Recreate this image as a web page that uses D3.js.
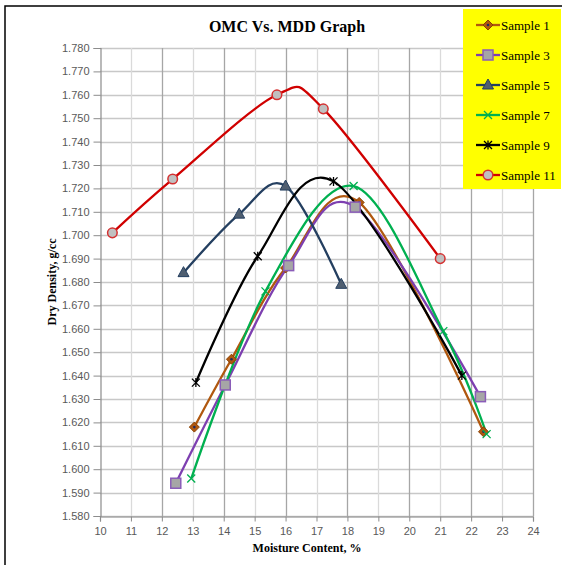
<!DOCTYPE html>
<html><head><meta charset="utf-8">
<script src="https://cdn.jsdelivr.net/npm/d3@7"></script>
<style>body{margin:0;background:#fff}</style>
</head><body>
<script>
// ---- data ----
const s1x = [13.05, 14.25, 16.0, 18.38, 22.4];
const s1y = [1.618, 1.647, 1.686, 1.714, 1.616];
const s3x = [12.45, 14.05, 16.1, 18.25, 22.3];
const s3y = [1.594, 1.636, 1.687, 1.712, 1.631];
const s5x = [12.7, 14.5, 16.0, 17.8];
const s5y = [1.684, 1.709, 1.721, 1.679];
const s7x = [12.95, 15.35, 18.2, 21.1, 22.5];
const s7y = [1.596, 1.676, 1.721, 1.659, 1.615];
const s9x = [13.1, 15.1, 17.55, 21.7];
const s9y = [1.637, 1.691, 1.723, 1.640];
const s11x = [10.4, 12.35, 15.72, 17.22, 21.0];
const s11y = [1.701, 1.724, 1.760, 1.754, 1.690];
const seriesNames = ["Sample 1","Sample 3","Sample 5","Sample 7","Sample 9","Sample 11"];
const xTicks = d3.range(10, 25, 1);
const yTicks = d3.range(1.58, 1.7801, 0.01);
const titleText = "OMC Vs. MDD Graph";
const xTitle = "Moisture Content, %";
const yTitle = "Dry Density, g/cc";

const series = [
  {name: seriesNames[0], xs: s1x, ys: s1y, color: "#b0580f", marker: "diamond", fill: "#b0580f", mstroke: "#8a4000"},
  {name: seriesNames[1], xs: s3x, ys: s3y, color: "#7d3fb0", marker: "square", fill: "#a6a6a6", mstroke: "#8a5cb8"},
  {name: seriesNames[2], xs: s5x, ys: s5y, color: "#243f60", marker: "triangle", fill: "#4f5e70", mstroke: "#243f60"},
  {name: seriesNames[3], xs: s7x, ys: s7y, color: "#00b050", marker: "x", fill: "none", mstroke: "#00b050"},
  {name: seriesNames[4], xs: s9x, ys: s9y, color: "#000000", marker: "star", fill: "none", mstroke: "#000000"},
  {name: seriesNames[5], xs: s11x, ys: s11y, color: "#d00000", marker: "circle", fill: "#c0c0c0", mstroke: "#d43030"}
];

const W = 562, H = 565;
const svg = d3.select("body").append("svg").attr("width", W).attr("height", H);
svg.append("rect").attr("width", W).attr("height", H).attr("fill", "#fff");
// outer frame
svg.append("rect").attr("x", 5).attr("y", 6).attr("width", W + 10).attr("height", H + 10)
  .attr("fill", "none").attr("stroke", "#000").attr("stroke-width", 1.5);

const x = d3.scaleLinear().domain([10, 24]).range([100, 533]);
const y = d3.scaleLinear().domain([1.58, 1.78]).range([516, 48]);

// gridlines
const g = svg.append("g");
g.selectAll("line.h").data(yTicks).enter().append("line")
  .attr("x1", 100).attr("x2", 533).attr("y1", d => Math.round(y(d)) + 0.5).attr("y2", d => Math.round(y(d)) + 0.5)
  .attr("stroke", "#c8c8c8").attr("stroke-width", 1.3);
g.selectAll("line.v").data(xTicks.slice(1)).enter().append("line")
  .attr("y1", 48).attr("y2", 516).attr("x1", d => Math.round(x(d)) + 0.5).attr("x2", d => Math.round(x(d)) + 0.5)
  .attr("stroke", d => d % 2 === 0 ? "#a6a6a6" : "#dadada").attr("stroke-width", 1.3);

// axes
const yAxis = d3.axisLeft(y).tickValues(yTicks).tickFormat(d3.format(".3f")).tickSize(7).tickPadding(4);
const xAxis = d3.axisBottom(x).tickValues(xTicks).tickFormat(d3.format("d")).tickSize(5).tickPadding(6);
const ya = svg.append("g").attr("transform", "translate(100.5,0)").call(yAxis);
const xa = svg.append("g").attr("transform", "translate(0,516.5)").call(xAxis);
[ya, xa].forEach(a => {
  a.select(".domain").attr("stroke", "#8c8c8c").attr("stroke-width", 1.2);
  a.selectAll(".tick line").attr("stroke", "#8c8c8c");
  a.selectAll("text").attr("fill", "#595959").style("font-family", "Liberation Sans, Arial, sans-serif").style("font-size", "11px");
});

// lines
const line = d3.line().curve(d3.curveCardinal.tension(0));
const plot = svg.append("g");
series.forEach(s => {
  const pts = s.xs.map((v, i) => [x(v), y(s.ys[i])]);
  plot.append("path").attr("d", line(pts)).attr("fill", "none")
    .attr("stroke", s.color).attr("stroke-width", 2.3);
});

function drawMarker(sel, s, cx, cy) {
  const gg = sel.append("g").attr("transform", `translate(${cx},${cy})`);
  if (s.marker === "diamond") {
    gg.append("path").attr("d", "M0,-5L5,0L0,5L-5,0Z").attr("fill", s.fill).attr("stroke", s.mstroke).attr("stroke-width", 1);
    gg.append("circle").attr("r", 1.3).attr("fill", "#1f2a60");
  } else if (s.marker === "square") {
    gg.append("rect").attr("x", -5).attr("y", -5).attr("width", 10).attr("height", 10)
      .attr("fill", s.fill).attr("stroke", s.mstroke).attr("stroke-width", 1.5);
  } else if (s.marker === "triangle") {
    gg.append("path").attr("d", "M0,-6L5.5,4L-5.5,4Z").attr("fill", s.fill).attr("stroke", s.mstroke).attr("stroke-width", 1);
  } else if (s.marker === "x") {
    gg.append("path").attr("d", "M-4,-4L4,4M-4,4L4,-4").attr("stroke", s.mstroke).attr("stroke-width", 1.3);
  } else if (s.marker === "star") {
    gg.append("path").attr("d", "M-4,-4L4,4M-4,4L4,-4M0,-4.5L0,4.5").attr("stroke", s.mstroke).attr("stroke-width", 1.3);
  } else if (s.marker === "circle") {
    gg.append("circle").attr("r", 4.8).attr("fill", s.fill).attr("stroke", s.mstroke).attr("stroke-width", 1.5);
  }
}
series.forEach(s => {
  s.xs.forEach((v, i) => drawMarker(plot, s, x(v), y(s.ys[i])));
});

// title
svg.append("text").attr("x", 287).attr("y", 32).attr("text-anchor", "middle")
  .style("font-family", "Liberation Serif, Times New Roman, serif").style("font-size", "16px").style("font-weight", "bold")
  .text(titleText);
// axis titles
svg.append("text").attr("x", 307).attr("y", 552).attr("text-anchor", "middle")
  .style("font-family", "Liberation Serif, Times New Roman, serif").style("font-size", "12px").style("font-weight", "bold")
  .text(xTitle);
svg.append("text").attr("transform", "translate(56,282) rotate(-90)").attr("text-anchor", "middle")
  .style("font-family", "Liberation Serif, Times New Roman, serif").style("font-size", "12px").style("font-weight", "bold")
  .text(yTitle);

// legend
const lg = svg.append("g");
lg.append("rect").attr("x", 463).attr("y", 9).attr("width", 98).attr("height", 180).attr("fill", "#ffff00");
const legY = d3.scaleLinear().domain([0, 5]).range([25, 175]);
series.forEach((s, i) => {
  const ly = legY(i);
  lg.append("line").attr("x1", 476).attr("x2", 500).attr("y1", ly).attr("y2", ly).attr("stroke", s.color).attr("stroke-width", 2.3);
  drawMarker(lg, s, 488, ly);
  lg.append("text").attr("x", 501).attr("y", ly + 4.5)
    .style("font-family", "Liberation Serif, Times New Roman, serif").style("font-size", "13px")
    .text(s.name);
});
</script>
</body></html>
